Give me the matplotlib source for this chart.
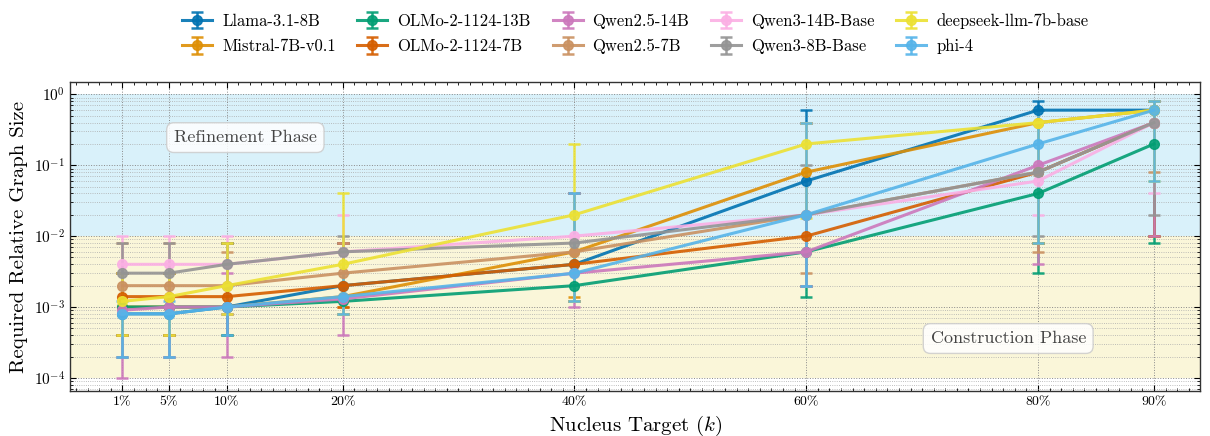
import numpy as np
import matplotlib
matplotlib.use('Agg')
import matplotlib.pyplot as plt
from matplotlib.ticker import FixedLocator, MultipleLocator, LogLocator, NullFormatter

plt.rcParams['font.family'] = ['cmr10', 'DejaVu Serif']
plt.rcParams['mathtext.fontset'] = 'cm'
plt.rcParams['axes.unicode_minus'] = False
plt.rcParams['axes.formatter.use_mathtext'] = True

# nucleus targets in percent
targets = [1, 5, 10, 20, 40, 60, 80, 90]
tick_labels = ['1%', '5%', '10%', '20%', '40%', '60%', '80%', '90%']

models = ['Llama-3.1-8B', 'Mistral-7B-v0.1', 'OLMo-2-1124-13B', 'OLMo-2-1124-7B',
          'Qwen2.5-14B', 'Qwen2.5-7B', 'Qwen3-14B-Base', 'Qwen3-8B-Base',
          'deepseek-llm-7b-base', 'phi-4']
colors = ['#0173b2', '#de8f05', '#029e73', '#d55e00', '#cc78bc',
          '#ca9161', '#fbafe4', '#949494', '#ece133', '#56b4e9']

# median relative graph size
llama_y = [8e-4, 8e-4, 1e-3, 2e-3, 4e-3, 0.06, 0.6, 0.6]
mistral_y = [1e-3, 1e-3, 1e-3, 1.4e-3, 6e-3, 0.08, 0.4, 0.6]
olmo13_y = [1e-3, 1e-3, 1e-3, 1.2e-3, 2e-3, 6e-3, 0.04, 0.2]
olmo7_y = [1.4e-3, 1.4e-3, 1.4e-3, 2e-3, 4e-3, 0.01, 0.08, 0.4]
qwen25_14_y = [9e-4, 1e-3, 1e-3, 1.3e-3, 3e-3, 6e-3, 0.1, 0.4]
qwen25_7_y = [2e-3, 2e-3, 2e-3, 3e-3, 6e-3, 0.02, 0.08, 0.4]
qwen3_14_y = [4e-3, 4e-3, 4e-3, 6e-3, 0.01, 0.02, 0.06, 0.4]
qwen3_8_y = [3e-3, 3e-3, 4e-3, 6e-3, 8e-3, 0.02, 0.08, 0.4]
deepseek_y = [1.2e-3, 1.4e-3, 2e-3, 4e-3, 0.02, 0.2, 0.4, 0.6]
phi_y = [8e-4, 8e-4, 1e-3, 1.4e-3, 3e-3, 0.02, 0.2, 0.6]

# lower / upper bounds
llama_lo = [2e-4, 2e-4, 4e-4, 8e-4, 1.2e-3, 2e-3, 8e-3, 0.01]
llama_hi = [3e-3, 3e-3, 8e-3, 8e-3, 0.04, 0.6, 0.8, 0.8]
mistral_lo = [4e-4, 4e-4, 4e-4, 1e-3, 1.4e-3, 2e-3, 8e-3, 0.01]
mistral_hi = [3e-3, 3e-3, 8e-3, 8e-3, 0.04, 0.4, 0.6, 0.8]
olmo13_lo = [4e-4, 4e-4, 4e-4, 8e-4, 1.2e-3, 1.4e-3, 3e-3, 8e-3]
olmo13_hi = [3e-3, 3e-3, 8e-3, 8e-3, 0.04, 0.4, 0.6, 0.8]
olmo7_lo = [4e-4, 4e-4, 8e-4, 1e-3, 1.2e-3, 2e-3, 8e-3, 0.01]
olmo7_hi = [3e-3, 3e-3, 8e-3, 8e-3, 0.04, 0.4, 0.6, 0.8]
qwen25_14_lo = [1e-4, 2e-4, 2e-4, 4e-4, 1e-3, 2e-3, 4e-3, 0.01]
qwen25_14_hi = [3e-3, 3e-3, 3e-3, 8e-3, 0.04, 0.4, 0.6, 0.8]
qwen25_7_lo = [4e-4, 4e-4, 8e-4, 8e-4, 1.2e-3, 3e-3, 6e-3, 0.08]
qwen25_7_hi = [8e-3, 8e-3, 6e-3, 8e-3, 0.04, 0.4, 0.6, 0.8]
qwen3_14_lo = [2e-4, 2e-4, 8e-4, 8e-4, 1.2e-3, 2e-3, 0.02, 0.04]
qwen3_14_hi = [0.01, 0.01, 0.01, 0.02, 0.04, 0.4, 0.6, 0.8]
qwen3_8_lo = [2e-4, 2e-4, 8e-4, 8e-4, 1.2e-3, 2e-3, 0.01, 0.02]
qwen3_8_hi = [8e-3, 8e-3, 8e-3, 0.01, 0.04, 0.1, 0.6, 0.8]
deepseek_lo = [4e-4, 4e-4, 8e-4, 8e-4, 1.2e-3, 0.018, 8e-3, 0.06]
deepseek_hi = [3e-3, 3e-3, 8e-3, 0.04, 0.2, 0.4, 0.6, 0.8]
phi_lo = [2e-4, 2e-4, 4e-4, 8e-4, 1.2e-3, 2e-3, 8e-3, 0.06]
phi_hi = [1.2e-3, 1.2e-3, 2e-3, 3e-3, 0.04, 0.4, 0.6, 0.8]

series = [
    (llama_y, llama_lo, llama_hi),
    (mistral_y, mistral_lo, mistral_hi),
    (olmo13_y, olmo13_lo, olmo13_hi),
    (olmo7_y, olmo7_lo, olmo7_hi),
    (qwen25_14_y, qwen25_14_lo, qwen25_14_hi),
    (qwen25_7_y, qwen25_7_lo, qwen25_7_hi),
    (qwen3_14_y, qwen3_14_lo, qwen3_14_hi),
    (qwen3_8_y, qwen3_8_lo, qwen3_8_hi),
    (deepseek_y, deepseek_lo, deepseek_hi),
    (phi_y, phi_lo, phi_hi),
]

fig = plt.figure(figsize=(12.1, 4.36), dpi=100)
ax = fig.add_axes([0.058, 0.103, 0.934, 0.709])

# phase bands
ax.axhspan(1e-2, 1.0, color='#d9f1fa', zorder=0, lw=0)
ax.axhspan(1e-4, 1e-2, color='#faf6d9', zorder=0, lw=0)

for name, col, (y, lo, hi) in zip(models, colors, series):
    y = np.array(y)
    yerr = [y - np.array(lo), np.array(hi) - y]
    ax.errorbar(targets, y, yerr=yerr, label=name, color=col, marker='o',
                markersize=7, lw=2.2, elinewidth=1.8, capsize=4, capthick=1.8,
                alpha=0.9, zorder=3)

ax.set_yscale('log')
ax.set_ylim(6.5e-5, 1.5)
ax.set_xlim(-3.5, 94)

ax.xaxis.set_major_locator(FixedLocator(targets))
ax.set_xticklabels(tick_labels, fontsize=10)
ax.xaxis.set_minor_locator(MultipleLocator(1))
ax.yaxis.set_major_locator(LogLocator(base=10, numticks=10))
ax.yaxis.set_minor_locator(LogLocator(base=10, subs=np.arange(2, 10), numticks=20))
ax.yaxis.set_minor_formatter(NullFormatter())
ax.tick_params(axis='y', labelsize=11)
ax.tick_params(which='both', direction='in', top=True, right=True)
ax.tick_params(which='major', length=4, width=0.8)
ax.tick_params(which='minor', length=2, width=0.6)

ax.grid(True, which='major', ls=':', lw=0.7, color='#888888', zorder=1)
ax.yaxis.grid(True, which='minor', ls=':', lw=0.6, color='#aaaaaa', zorder=1)
ax.set_axisbelow(True)
for s in ax.spines.values():
    s.set_linewidth(1.0)
    s.set_color('#333333')

ax.set_xlabel('Nucleus Target ($k$)', fontsize=15)
ax.set_ylabel('Required Relative Graph Size', fontsize=15)

box = dict(boxstyle='round,pad=0.4', facecolor='white', edgecolor='#cccccc', alpha=0.85)
ax.text(0.155, 0.82, 'Refinement Phase', transform=ax.transAxes, fontsize=13,
        color='#444444', ha='center', va='center', bbox=box, zorder=5)
ax.text(0.83, 0.17, 'Construction Phase', transform=ax.transAxes, fontsize=13,
        color='#444444', ha='center', va='center', bbox=box, zorder=5)

ax.legend(loc='lower center', bbox_to_anchor=(0.5, 1.09), ncol=5, frameon=False,
          fontsize=12, handlelength=1.8, handletextpad=0.6, columnspacing=1.3,
          labelspacing=0.6, borderaxespad=0.0, borderpad=0.0)

fig.savefig('out.png', dpi=100)
